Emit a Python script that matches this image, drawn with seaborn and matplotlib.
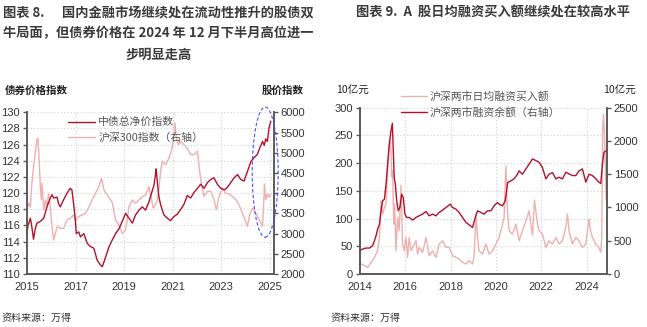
import matplotlib
matplotlib.use("Agg")
import matplotlib.pyplot as plt
from matplotlib.patches import Ellipse
import seaborn as sns
import numpy as np

# ---------------- data: left chart ----------------
bond_years = [2015.00, 2015.04, 2015.14, 2015.20, 2015.27, 2015.34, 2015.41, 2015.55, 2015.69, 2015.82,
              2015.96, 2016.03, 2016.10, 2016.24, 2016.30, 2016.37, 2016.51, 2016.65, 2016.78, 2016.85,
              2016.92, 2016.99, 2017.03, 2017.13, 2017.20, 2017.34, 2017.48, 2017.61, 2017.75, 2017.89,
              2018.03, 2018.10, 2018.24, 2018.38, 2018.51, 2018.65, 2018.79, 2018.92, 2019.06, 2019.20,
              2019.34, 2019.47, 2019.61, 2019.75, 2019.88, 2020.02, 2020.09, 2020.23, 2020.30, 2020.32,
              2020.38, 2020.43, 2020.50, 2020.64, 2020.78, 2020.91, 2021.05, 2021.19, 2021.33, 2021.46,
              2021.60, 2021.74, 2021.88, 2022.02, 2022.15, 2022.29, 2022.43, 2022.57, 2022.70, 2022.84,
              2022.98, 2023.12, 2023.25, 2023.39, 2023.53, 2023.67, 2023.80, 2023.94, 2024.08, 2024.22,
              2024.35, 2024.49, 2024.56, 2024.70, 2024.77, 2024.83, 2024.90, 2024.97, 2025.04]
bond_index = [115.0, 116.0, 116.9, 115.8, 114.3, 115.6, 116.3, 116.5, 116.9, 118.3,
              119.4, 119.8, 119.4, 119.5, 118.7, 118.3, 119.2, 120.0, 120.6, 120.4,
              118.7, 116.7, 115.0, 115.2, 114.6, 115.0, 113.8, 113.4, 113.2, 111.7,
              111.1, 110.9, 112.1, 113.4, 114.2, 115.0, 115.6, 116.5, 117.5, 116.9,
              116.3, 117.3, 117.9, 118.3, 117.9, 118.9, 119.6, 121.0, 122.5, 123.0,
              121.0, 119.6, 118.6, 117.3, 116.9, 116.6, 117.1, 117.4, 118.0, 118.6,
              119.7, 119.4, 120.1, 120.6, 121.1, 120.6, 121.3, 121.7, 121.9, 121.1,
              120.6, 120.4, 120.7, 121.3, 121.9, 122.3, 121.7, 121.5, 122.7, 123.9,
              124.4, 124.8, 125.4, 126.4, 125.9, 126.7, 126.4, 128.1, 128.9]

csi_years = [2015.00, 2015.07, 2015.14, 2015.20, 2015.27, 2015.34, 2015.41, 2015.45, 2015.50, 2015.55,
             2015.59, 2015.62, 2015.69, 2015.76, 2015.82, 2015.89, 2015.96, 2016.03, 2016.10, 2016.17,
             2016.24, 2016.37, 2016.51, 2016.65, 2016.78, 2016.92, 2016.99, 2017.13, 2017.27, 2017.41,
             2017.55, 2017.68, 2017.82, 2017.96, 2018.07, 2018.17, 2018.31, 2018.45, 2018.52, 2018.65,
             2018.79, 2018.92, 2019.06, 2019.20, 2019.34, 2019.47, 2019.61, 2019.75, 2019.88, 2020.02,
             2020.20, 2020.36, 2020.43, 2020.50, 2020.57, 2020.71, 2020.85, 2020.98, 2021.09, 2021.15,
             2021.23, 2021.33, 2021.46, 2021.60, 2021.74, 2021.88, 2022.02, 2022.11, 2022.19, 2022.29,
             2022.43, 2022.57, 2022.70, 2022.80, 2022.91, 2023.05, 2023.18, 2023.32, 2023.46, 2023.60,
             2023.73, 2023.87, 2024.01, 2024.08, 2024.17, 2024.29, 2024.42, 2024.56, 2024.70, 2024.74,
             2024.78, 2024.83, 2024.90, 2024.97, 2025.04]
csi300 = [3583, 3750, 3660, 4243, 4654, 4985, 5315, 5360, 4820, 4160,
          3840, 4243, 3583, 3830, 3660, 3995, 3660, 3170, 2840, 3005,
          3170, 3130, 3130, 3335, 3380, 3460, 3335, 3420, 3460, 3500,
          3660, 3830, 3995, 4160, 4367, 4077, 3950, 3830, 3750, 3335,
          3210, 3005, 3088, 3660, 3830, 3750, 3830, 3912, 3950, 4160,
          3630, 3800, 4085, 4540, 4790, 4705, 4870, 5117, 5736, 5365,
          5200, 5282, 5200, 5117, 4952, 4952, 5035, 4540, 4210, 3920,
          4045, 4045, 3840, 3590, 3920, 4127, 4000, 3980, 3920, 3840,
          3715, 3510, 3300, 3180, 3470, 3630, 3510, 3345, 3180, 3630,
          4225, 3840, 3980, 3900, 3980]

# ---------------- data: right chart ----------------
bal_years = [2014.00, 2014.13, 2014.28, 2014.43, 2014.57, 2014.65, 2014.72, 2014.79, 2014.87, 2014.94,
             2015.01, 2015.09, 2015.16, 2015.23, 2015.30, 2015.38, 2015.44, 2015.48, 2015.52, 2015.57,
             2015.63, 2015.70, 2015.77, 2015.85, 2015.92, 2015.99, 2016.07, 2016.18, 2016.33, 2016.48,
             2016.62, 2016.77, 2016.92, 2017.06, 2017.21, 2017.36, 2017.50, 2017.65, 2017.80, 2017.99,
             2018.09, 2018.24, 2018.38, 2018.53, 2018.68, 2018.82, 2018.97, 2019.09, 2019.19, 2019.34,
             2019.48, 2019.63, 2019.78, 2019.92, 2020.07, 2020.14, 2020.29, 2020.41, 2020.47, 2020.52,
             2020.66, 2020.80, 2020.95, 2021.02, 2021.17, 2021.32, 2021.46, 2021.61, 2021.76, 2021.90,
             2022.05, 2022.20, 2022.34, 2022.49, 2022.64, 2022.78, 2022.93, 2023.08, 2023.22, 2023.37,
             2023.52, 2023.66, 2023.81, 2023.96, 2024.10, 2024.25, 2024.40, 2024.54, 2024.62, 2024.69,
             2024.76, 2024.84]
margin_balance = [350, 375, 390, 390, 425, 500, 575, 675, 750, 950,
                  1100, 1125, 1350, 1650, 1950, 2155, 2265, 1855, 1450, 1350,
                  1100, 950, 1000, 1200, 1150, 900, 850, 850, 810, 850,
                  875, 900, 940, 875, 900, 875, 925, 960, 1000, 1050,
                  1000, 975, 925, 850, 775, 740, 700, 850, 950, 925,
                  900, 950, 950, 1025, 1075, 1050, 1025, 1100, 1250, 1375,
                  1400, 1430, 1500, 1550, 1500, 1580, 1650, 1730, 1705, 1680,
                  1600, 1430, 1500, 1525, 1430, 1455, 1430, 1530, 1505, 1480,
                  1480, 1550, 1580, 1380, 1500, 1480, 1430, 1380, 1360, 1650,
                  1830, 1850]

buy_years = [2014.00, 2014.06, 2014.21, 2014.35, 2014.50, 2014.65, 2014.79, 2014.87, 2014.94, 2015.01,
             2015.09, 2015.16, 2015.23, 2015.30, 2015.36, 2015.41, 2015.45, 2015.50, 2015.54, 2015.60,
             2015.67, 2015.74, 2015.82, 2015.89, 2015.96, 2016.04, 2016.11, 2016.18, 2016.26, 2016.33,
             2016.48, 2016.55, 2016.62, 2016.77, 2016.92, 2017.06, 2017.21, 2017.36, 2017.50, 2017.65,
             2017.80, 2017.94, 2018.09, 2018.24, 2018.38, 2018.53, 2018.68, 2018.82, 2018.97, 2019.04,
             2019.12, 2019.19, 2019.26, 2019.41, 2019.56, 2019.70, 2019.85, 2020.00, 2020.14, 2020.29,
             2020.36, 2020.44, 2020.51, 2020.58, 2020.73, 2020.88, 2021.02, 2021.17, 2021.32, 2021.46,
             2021.54, 2021.61, 2021.70, 2021.83, 2021.90, 2022.05, 2022.20, 2022.34, 2022.49, 2022.64,
             2022.78, 2022.93, 2023.08, 2023.15, 2023.22, 2023.37, 2023.52, 2023.66, 2023.81, 2023.96,
             2024.10, 2024.17, 2024.25, 2024.40, 2024.54, 2024.62, 2024.66, 2024.70, 2024.74, 2024.78,
             2024.82, 2024.86]
daily_buy = [24, 18, 15, 12, 21, 30, 42, 66, 132, 108,
             120, 126, 186, 228, 240, 175, 186, 90, 126, 42,
             102, 78, 160, 54, 42, 66, 30, 66, 42, 48,
             60, 36, 48, 39, 66, 33, 42, 30, 54, 60,
             48, 48, 33, 30, 27, 21, 18, 24, 18, 33,
             108, 66, 42, 36, 54, 36, 42, 54, 66, 90,
             102, 195, 114, 78, 72, 90, 60, 78, 96, 114,
             90, 70, 133, 90, 78, 72, 48, 60, 54, 66,
             54, 60, 84, 108, 78, 54, 66, 60, 48, 54,
             99, 78, 66, 54, 48, 39, 66, 258, 288, 252,
             200, 133]

left_yticks = list(range(110, 131, 2))
left_y2ticks = list(range(2000, 6001, 500))
left_xticks = list(range(2015, 2026, 2))
right_yticks = list(range(0, 301, 50))
right_y2ticks = list(range(0, 2501, 500))
right_xticks = list(range(2014, 2025, 2))

# ---------------- style ----------------
sns.set_style("white")
plt.rcParams['font.family'] = ['Liberation Sans', 'Noto Sans CJK SC', 'DejaVu Sans']
plt.rcParams['axes.unicode_minus'] = False

DARK = "#B0122C"
LIGHT = "#EDB0AF"
SPINE = "#5a5a5a"
TXT = "#333333"
GRID = "#cfcfcf"
CJK = ['Noto Sans CJK SC', 'DejaVu Sans']

W, H = 647, 327
fig = plt.figure(figsize=(W / 100, H / 100), dpi=100)


def px_axes(x0, y0, x1, y1):
    return fig.add_axes([x0 / W, 1 - y1 / H, (x1 - x0) / W, (y1 - y0) / H])


def style_axes(ax, twin):
    ax.spines['top'].set_visible(False)
    twin.spines['top'].set_visible(False)
    for a in (ax, twin):
        for s in ['left', 'right', 'bottom']:
            a.spines[s].set_color(SPINE)
            a.spines[s].set_linewidth(1.2)
    ax.tick_params(axis='both', labelsize=8, colors=TXT, length=3, width=1, direction='out', pad=2)
    twin.tick_params(axis='y', labelsize=8, colors=TXT, length=3, width=1, direction='out', pad=2)
    ax.tick_params(axis='x', pad=3)
    for a in (ax, twin):
        a.tick_params(axis='both', color=SPINE)
    ax.grid(True, ls=(0, (1, 2)), color=GRID, lw=0.8)
    ax.set_axisbelow(True)
    ax.set_xlabel("")
    ax.set_ylabel("")
    twin.set_ylabel("")


# ---------------- left chart ----------------
axL = px_axes(27, 112.3, 273.7, 274)
axL2 = axL.twinx()
sns.lineplot(x=csi_years, y=csi300, ax=axL2, color=LIGHT, lw=1.0, label="沪深300指数（右轴）")
sns.lineplot(x=bond_years, y=bond_index, ax=axL, color=DARK, lw=1.0, label="中债总净价指数")
axL.set_zorder(axL2.get_zorder() + 1)
axL.patch.set_visible(False)
axL2.patch.set_visible(True)
axL2.patch.set_facecolor("white")
for a in (axL, axL2):
    if a.get_legend():
        a.get_legend().remove()
axL.set_xlim(2015.0, 2025.16)
axL.set_ylim(110, 130)
axL2.set_ylim(2000, 6000)
axL.set_yticks(left_yticks)
axL2.set_yticks(left_y2ticks)
axL.set_xticks(left_xticks)
style_axes(axL, axL2)
axL2.grid(False)

hL = [axL.get_lines()[0], axL2.get_lines()[0]]
legL = axL.legend(hL, ["中债总净价指数", "沪深300指数（右轴）"], loc='upper left',
                  bbox_to_anchor=(0.166, 0.97), frameon=False, borderpad=0, borderaxespad=0,
                  handlelength=2.5, handletextpad=0.3, labelspacing=0.45,
                  prop={'family': CJK, 'size': 7.8})
for t in legL.get_texts():
    t.set_color("#555555")

ell = Ellipse((2024.81, 122.6), width=1.07, height=16.1, fill=False, ec="#4a4aff",
              lw=0.8, ls=(0, (3, 2)), clip_on=False, zorder=10)
axL.add_patch(ell)

# ---------------- right chart ----------------
axR = px_axes(359.7, 107.7, 606.7, 274)
axR2 = axR.twinx()
sns.lineplot(x=buy_years, y=daily_buy, ax=axR, color=LIGHT, lw=1.0, label="沪深两市日均融资买入额")
sns.lineplot(x=bal_years, y=margin_balance, ax=axR2, color=DARK, lw=1.0, label="沪深两市融资余额（右轴）")
for a in (axR, axR2):
    if a.get_legend():
        a.get_legend().remove()
axR.set_xlim(2014.0, 2024.88)
axR.set_ylim(0, 300)
axR2.set_ylim(0, 2500)
axR.set_yticks(right_yticks)
axR2.set_yticks(right_y2ticks)
axR.set_xticks(right_xticks)
style_axes(axR, axR2)

hR = [axR.get_lines()[0], axR2.get_lines()[0]]
legR = axR2.legend(hR, ["沪深两市日均融资买入额", "沪深两市融资余额（右轴）"], loc='upper left',
                   bbox_to_anchor=(0.168, 1.10), frameon=False, borderpad=0, borderaxespad=0,
                   handlelength=2.4, handletextpad=0.25, labelspacing=0.45,
                   prop={'family': CJK, 'size': 7.8})
for t in legR.get_texts():
    t.set_color("#555555")

# ---------------- texts ----------------
def ftext(x, y, s, **kw):
    fig.text(x / W, 1 - y / H, s, **kw)

tkw = dict(family=CJK, weight='bold', size=9.5, color="#3a3a3a", va='center')
ftext(3, 13, "图表 8.", ha='left', **tkw)
ftext(62, 13, "国内金融市场继续处在流动性推升的股债双", ha='left', **tkw)
ftext(3, 33.5, "牛局面，但债券价格在 2024 年 12 月下半月高位进一", ha='left', **tkw)
ftext(159, 55, "步明显走高", ha='center', **tkw)
ftext(356, 13, "图表 9.  A  股日均融资买入额继续处在较高水平", ha='left', **tkw)

ukw = dict(family=CJK, size=7.6, color="#222222", va='center')
ftext(5, 90.7, "债券价格指数", ha='left', weight='bold', **ukw)
ftext(304, 90.7, "股价指数", ha='right', weight='bold', **ukw)
ftext(336, 91, "10亿元", ha='left', **ukw)
ftext(603, 91, "10亿元", ha='left', **ukw)

skw = dict(family=CJK, size=7.2, color="#333333", va='center')
ftext(2, 318, "资料来源：万得", ha='left', **skw)
ftext(331, 318, "资料来源：万得", ha='left', **skw)

fig.savefig("out.png", dpi=100)
